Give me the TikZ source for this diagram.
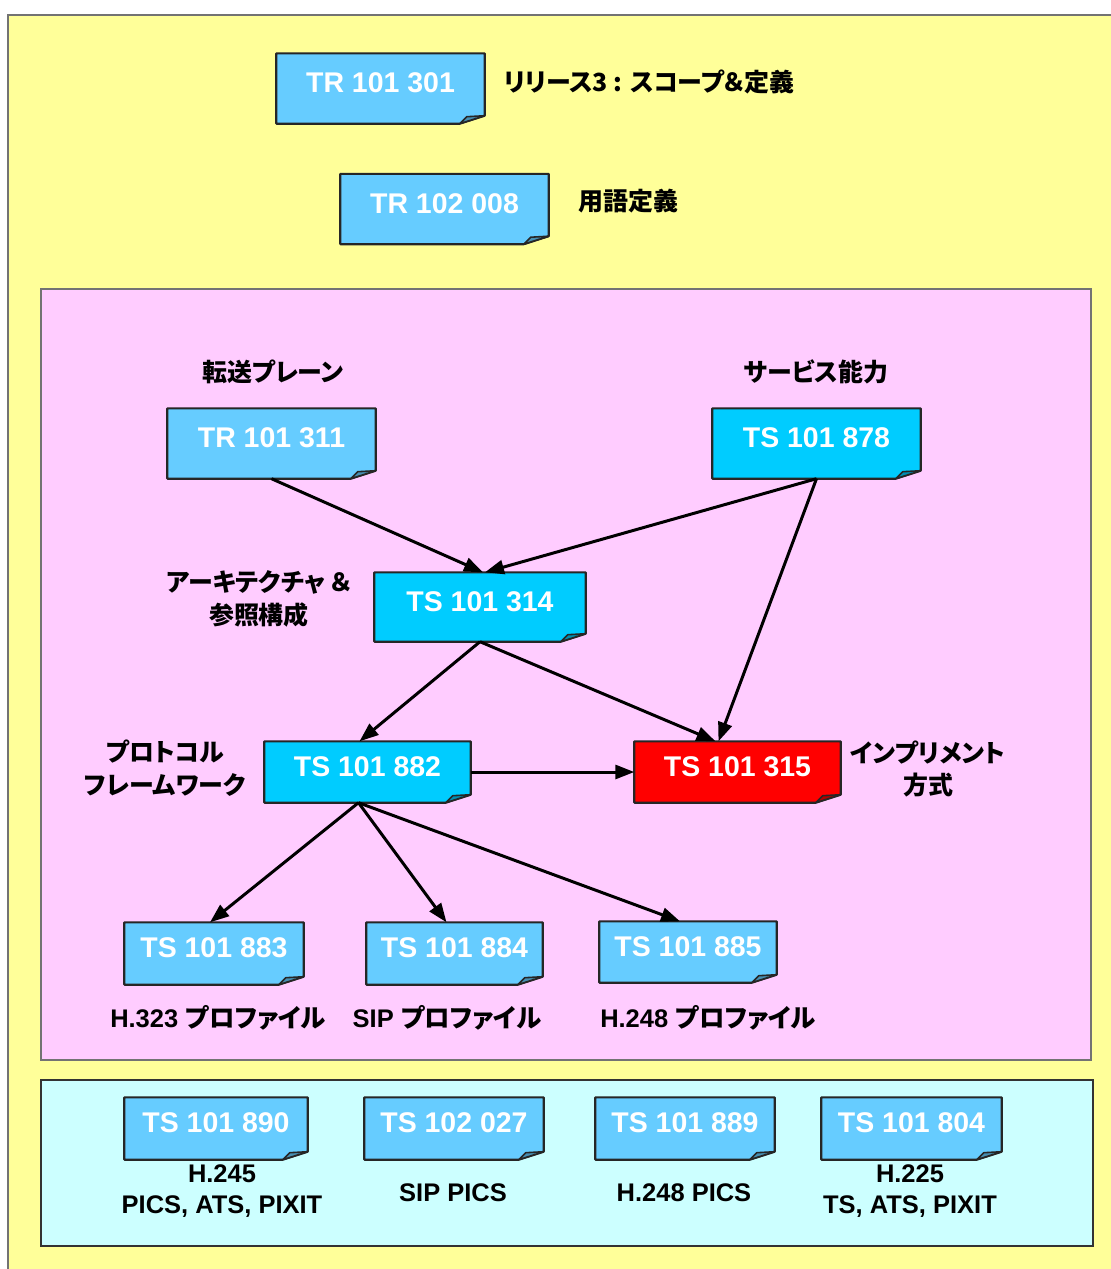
\documentclass[tikz,border=0pt]{standalone}
\usepackage{fontspec}
\setmainfont{Liberation Sans}
\newfontfamily\jpfont[RawFeature=+palt]{Noto Sans CJK JP}
\usetikzlibrary{arrows.meta}
\pgfdeclarelayer{back}
\pgfdeclarelayer{mid}
\pgfsetlayers{back,mid,main}
\definecolor{padyellow}{HTML}{FFFF99}
\definecolor{padpink}{HTML}{FFCCFF}
\definecolor{padcyan}{HTML}{CCFFFF}
\definecolor{docblue}{HTML}{66CCFF}
\definecolor{doccyan}{HTML}{00CCFF}
\definecolor{docred}{HTML}{FF0000}
\tikzset{
    docnode/.style = {inner sep=0pt, align=center, text=white, text depth=1.1mm, font=\bfseries\fontsize{8.1}{9}\selectfont},
    docsmall/.style = {docnode, minimum width=1.78cm, minimum height=0.61cm},
    docwide/.style = {docnode, minimum width=2.07cm, minimum height=0.69cm},
    lbljp/.style = {inner sep=0pt, align=center, font=\jpfont\bfseries\fontsize{7.1}{9.3}\selectfont},
    lblen/.style = {inner sep=0pt, align=center, font=\bfseries\fontsize{7.25}{8.9}\selectfont},
    edgea/.style = {-{Triangle[length=1.9mm,width=1.4mm]}, line width=0.85pt, black},
    padline/.style = {line width=0.6pt, draw=black!55},
}

\begin{document}
\begin{tikzpicture}
\useasboundingbox (0,0) rectangle (11.11,-12.69);
%
\node[docwide] at (3.805,-0.885) (r301) {TR 101 301};
\node[docwide] at (4.445,-2.09) (r008) {TR 102 008};
\node[docwide] at (2.715,-4.435) (r311) {TR 101 311};
\node[docwide] at (8.165,-4.435) (s878) {TS 101 878};
\node[docwide, minimum width=2.10cm, minimum height=0.68cm] at (4.80,-6.07) (s314) {TS 101 314};
\node[docwide, minimum width=2.05cm, minimum height=0.60cm] at (3.675,-7.72) (s882) {TS 101 882};
\node[docwide, minimum width=2.05cm, minimum height=0.60cm] at (7.375,-7.72) (s315) {TS 101 315};
\node[docsmall] at (2.14,-9.535) (s883) {TS 101 883};
\node[docsmall, minimum width=1.75cm] at (4.545,-9.535) (s884) {TS 101 884};
\node[docsmall, minimum width=1.76cm, minimum height=0.60cm] at (6.88,-9.52) (s885) {TS 101 885};
\node[docsmall, minimum width=1.82cm] at (2.16,-11.285) (s890) {TS 101 890};
\node[docsmall] at (4.54,-11.285) (s027) {TS 102 027};
\node[docsmall] at (6.85,-11.285) (s889) {TS 101 889};
\node[docsmall, minimum width=1.79cm] at (9.115,-11.285) (s804) {TS 101 804};
%
\node[lbljp, anchor=west] at (5.03,-0.82) (l301) {リリース3 : スコープ＆定義};
\node[lbljp, anchor=west] at (5.78,-2.01) (l008) {用語定義};
\node[lbljp] at (2.73,-3.72) (l311) {転送プレーン};
\node[lbljp] at (8.16,-3.72) (l878) {サービス能力};
\node[lbljp] at (2.59,-5.99) (l314) {アーキテクチャ ＆\\参照構成};
\node[lbljp] at (1.65,-7.68) (l882) {プロトコル\\フレームワーク};
\node[lbljp] at (9.28,-7.69) (l315) {インプリメント\\方式};
\node[lblen] at (2.18,-10.18) (l883) {H.323 {\jpfont プロファイル}};
\node[lblen] at (4.47,-10.18) (l884) {SIP {\jpfont プロファイル}};
\node[lblen] at (7.08,-10.18) (l885) {H.248 {\jpfont プロファイル}};
\node[lblen] at (2.22,-11.91) (l890) {H.245\\PICS, ATS, PIXIT};
\node[lblen] at (4.53,-11.93) (l027) {SIP PICS};
\node[lblen] at (6.84,-11.93) (l889) {H.248 PICS};
\node[lblen] at (9.10,-11.91) (l804) {H.225\\TS, ATS, PIXIT};
%
\draw[edgea] (r311.south) -- ([xshift=0.03cm]s314.north);
\draw[edgea] (s878.south) -- ([xshift=0.05cm]s314.north);
\draw[edgea] (s878.south) -- ([xshift=-0.19cm]s315.north);
\draw[edgea] (s314.south) -- ([xshift=-0.08cm]s882.north);
\draw[edgea] (s314.south) -- ([xshift=-0.22cm]s315.north);
\draw[edgea] (s882.east) -- (s315.west);
\draw[edgea] ([xshift=-0.09cm]s882.south) -- ([xshift=-0.04cm]s883.north);
\draw[edgea] ([xshift=-0.09cm]s882.south) -- ([xshift=-0.08cm]s884.north);
\draw[edgea] ([xshift=-0.09cm]s882.south) -- ([xshift=-0.08cm]s885.north);
%
\begin{pgfonlayer}{mid}
\foreach \n/\c in {r301/docblue, r008/docblue, r311/docblue, s878/doccyan, s314/doccyan,
    s882/doccyan, s315/docred, s883/docblue, s884/docblue, s885/docblue,
    s890/docblue, s027/docblue, s889/docblue, s804/docblue}{
  \filldraw[fill=\c, draw=black!85, line width=0.6pt, line join=round] (\n.north west) -- (\n.north east)
    -- ([yshift=0.08cm]\n.south east) -- ([xshift=-0.25cm]\n.south east) -- (\n.south west) -- cycle;
  \filldraw[fill=\c!70!black, draw=black!85, line width=0.45pt, line join=round] ([xshift=-0.25cm]\n.south east)
    -- ([xshift=-0.18cm,yshift=0.07cm]\n.south east) -- ([yshift=0.08cm]\n.south east) -- cycle;
}
\end{pgfonlayer}
%
\begin{pgfonlayer}{back}
\filldraw[padline, fill=padyellow] (0.08,-0.15) rectangle (11.3,-12.9);
\filldraw[padline, fill=padpink] (0.41,-2.89) rectangle (10.91,-10.60);
\filldraw[padline, draw=black!80, fill=padcyan] (0.41,-10.80) rectangle (10.93,-12.46);
\end{pgfonlayer}

\end{tikzpicture}
\end{document}
